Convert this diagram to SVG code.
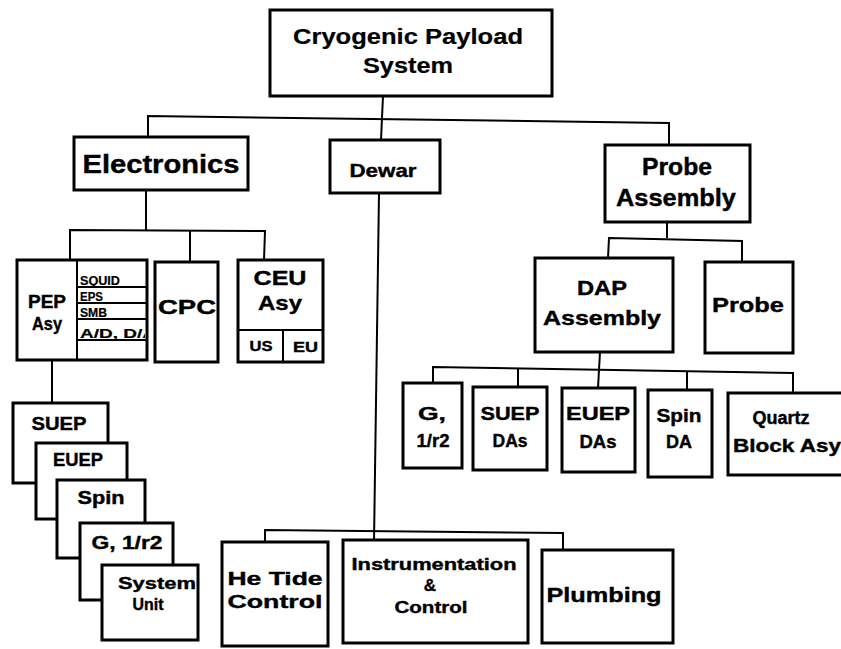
<svg xmlns="http://www.w3.org/2000/svg" width="841" height="649" viewBox="0 0 841 649">
<style>
.box{fill:#fff;stroke:#000;stroke-width:3}
.div{fill:none;stroke:#000;stroke-width:2}
.con{fill:none;stroke:#000;stroke-width:2}
text{font-family:"Liberation Sans",Arial,sans-serif;font-weight:bold;fill:#000;stroke:#000;stroke-width:0.4;text-anchor:middle}
.s{font-size:12px;text-anchor:start;stroke-width:0.2}
.m{font-size:18px}
.l{font-size:21px}
</style>
<defs>
<clipPath id="adclip"><rect x="78" y="320" width="67" height="19"/></clipPath>
<clipPath id="euclip"><rect x="284" y="331" width="38" height="29"/></clipPath>
</defs>
<rect width="841" height="649" fill="#fff"/>
<g id="connectors">
<polyline class="con" points="383,96 381,140"/>
<polyline class="con" points="148,137 148,116 669,123 669,145"/>
<polyline class="con" points="146,190 146,230"/>
<polyline class="con" points="70,260 70,230 265,231 264,260"/>
<polyline class="con" points="190,230.5 190,262"/>
<polyline class="con" points="52,360 52,403"/>
<polyline class="con" points="379,193 374,542"/>
<polyline class="con" points="265,542 265,530 563,533 563,550"/>
<polyline class="con" points="667,222 667,238"/>
<polyline class="con" points="608,258 609,238 742,241 742,262"/>
<polyline class="con" points="600,352 598,388"/>
<polyline class="con" points="433,383 433,367 793,373 793,393"/>
<polyline class="con" points="518,368.5 518,387"/>
<polyline class="con" points="687,371.5 687,390"/>
</g>
<g id="cryogenic-payload-system">
<rect class="box" x="270" y="10" width="282" height="86"/>
<text x="408" y="44" style="font-size:22px;stroke-width:0.2" textLength="230" lengthAdjust="spacingAndGlyphs">Cryogenic Payload</text>
<text x="408" y="73" style="font-size:22px;stroke-width:0.2" textLength="90" lengthAdjust="spacingAndGlyphs">System</text>
</g>
<g id="electronics">
<rect class="box" x="74" y="137" width="174" height="53"/>
<text x="161" y="173" style="font-size:25px" textLength="157" lengthAdjust="spacingAndGlyphs">Electronics</text>
</g>
<g id="dewar">
<rect class="box" x="330" y="140" width="110" height="53"/>
<text x="383" y="177" style="font-size:19px" textLength="67" lengthAdjust="spacingAndGlyphs">Dewar</text>
</g>
<g id="probe-assembly">
<rect class="box" x="605" y="145" width="145" height="77"/>
<text x="677" y="175" style="font-size:23px" textLength="70" lengthAdjust="spacingAndGlyphs">Probe</text>
<text x="676" y="206" style="font-size:23px" textLength="120" lengthAdjust="spacingAndGlyphs">Assembly</text>
</g>
<g id="pep-asy">
<rect class="box" x="17" y="260" width="130" height="100"/>
<line class="div" x1="77" y1="260" x2="77" y2="360"/>
<line class="div" x1="77" y1="287" x2="147" y2="287"/>
<line class="div" x1="77" y1="303" x2="147" y2="303"/>
<line class="div" x1="77" y1="319" x2="147" y2="319"/>
<line class="div" x1="77" y1="340" x2="147" y2="340"/>
<text x="47" y="308" class="m" textLength="38" lengthAdjust="spacingAndGlyphs">PEP</text>
<text x="47" y="330" class="m" textLength="30" lengthAdjust="spacingAndGlyphs">Asy</text>
<text x="80" y="285" class="s" textLength="40" lengthAdjust="spacingAndGlyphs">SQUID</text>
<text x="80" y="301" class="s" textLength="23" lengthAdjust="spacingAndGlyphs">EPS</text>
<text x="80" y="317" class="s" textLength="27" lengthAdjust="spacingAndGlyphs">SMB</text>
<text x="80" y="338" class="s" clip-path="url(#adclip)" textLength="76" lengthAdjust="spacingAndGlyphs">A/D, D/A</text>
</g>
<g id="cpc">
<rect class="box" x="155" y="262" width="63" height="100"/>
<text x="187" y="314" style="font-size:20px" textLength="58" lengthAdjust="spacingAndGlyphs">CPC</text>
</g>
<g id="ceu-asy">
<rect class="box" x="238" y="260" width="85" height="102"/>
<line class="div" x1="238" y1="330" x2="323" y2="330"/>
<line class="div" x1="283" y1="330" x2="283" y2="362"/>
<text x="280" y="285" class="l" textLength="53" lengthAdjust="spacingAndGlyphs">CEU</text>
<text x="280" y="310" class="l" textLength="44" lengthAdjust="spacingAndGlyphs">Asy</text>
<text x="261" y="351" style="font-size:15px" textLength="23" lengthAdjust="spacingAndGlyphs">US</text>
<text x="293" y="352" style="font-size:15px;text-anchor:start" clip-path="url(#euclip)" textLength="25" lengthAdjust="spacingAndGlyphs">EU</text>
</g>
<g id="suep-unit">
<rect class="box" x="13" y="403" width="95" height="80"/>
<text x="59" y="430" class="m" textLength="55" lengthAdjust="spacingAndGlyphs">SUEP</text>
</g>
<g id="euep-unit">
<rect class="box" x="36" y="443" width="91" height="76"/>
<text x="78" y="466" class="m" textLength="50" lengthAdjust="spacingAndGlyphs">EUEP</text>
</g>
<g id="spin-unit">
<rect class="box" x="57" y="480" width="88" height="78"/>
<text x="101" y="504" class="m" textLength="47" lengthAdjust="spacingAndGlyphs">Spin</text>
</g>
<g id="g-unit">
<rect class="box" x="80" y="523" width="93" height="77"/>
<text x="127" y="549" class="m" textLength="71" lengthAdjust="spacingAndGlyphs">G, 1/r2</text>
</g>
<g id="system-unit">
<rect class="box" x="102" y="565" width="96" height="75"/>
<text x="157" y="589" style="font-size:17px" textLength="78" lengthAdjust="spacingAndGlyphs">System</text>
<text x="148" y="610" style="font-size:17px" textLength="31" lengthAdjust="spacingAndGlyphs">Unit</text>
</g>
<g id="he-tide-control">
<rect class="box" x="222" y="542" width="106" height="104"/>
<text x="275" y="585" style="font-size:19px" textLength="95" lengthAdjust="spacingAndGlyphs">He Tide</text>
<text x="275" y="608" style="font-size:19px" textLength="95" lengthAdjust="spacingAndGlyphs">Control</text>
</g>
<g id="instrumentation-control">
<rect class="box" x="343" y="540" width="185" height="103"/>
<text x="434" y="570" style="font-size:17px" textLength="165" lengthAdjust="spacingAndGlyphs">Instrumentation</text>
<text x="430" y="591" style="font-size:17px">&amp;</text>
<text x="431" y="613" style="font-size:17px" textLength="73" lengthAdjust="spacingAndGlyphs">Control</text>
</g>
<g id="plumbing">
<rect class="box" x="542" y="550" width="131" height="93"/>
<text x="604" y="602" style="font-size:20px" textLength="115" lengthAdjust="spacingAndGlyphs">Plumbing</text>
</g>
<g id="dap-assembly">
<rect class="box" x="535" y="258" width="138" height="94"/>
<text x="602" y="295" class="l" textLength="50" lengthAdjust="spacingAndGlyphs">DAP</text>
<text x="602" y="325" class="l" textLength="118" lengthAdjust="spacingAndGlyphs">Assembly</text>
</g>
<g id="probe">
<rect class="box" x="705" y="262" width="88" height="91"/>
<text x="748" y="312" class="l" textLength="72" lengthAdjust="spacingAndGlyphs">Probe</text>
</g>
<g id="g-1r2">
<rect class="box" x="403" y="383" width="59" height="85"/>
<text x="432" y="420" class="m" textLength="28" lengthAdjust="spacingAndGlyphs">G,</text>
<text x="433" y="447" class="m" textLength="33" lengthAdjust="spacingAndGlyphs">1/r2</text>
</g>
<g id="suep-das">
<rect class="box" x="473" y="387" width="74" height="83"/>
<text x="510" y="420" class="m" textLength="59" lengthAdjust="spacingAndGlyphs">SUEP</text>
<text x="510" y="447" class="m" textLength="35" lengthAdjust="spacingAndGlyphs">DAs</text>
</g>
<g id="euep-das">
<rect class="box" x="562" y="388" width="73" height="84"/>
<text x="598" y="420" class="m" textLength="64" lengthAdjust="spacingAndGlyphs">EUEP</text>
<text x="598" y="448" class="m" textLength="37" lengthAdjust="spacingAndGlyphs">DAs</text>
</g>
<g id="spin-da">
<rect class="box" x="648" y="390" width="64" height="87"/>
<text x="679" y="422" class="m" textLength="45" lengthAdjust="spacingAndGlyphs">Spin</text>
<text x="679" y="448" class="m" textLength="26" lengthAdjust="spacingAndGlyphs">DA</text>
</g>
<g id="quartz-block-asy">
<rect class="box" x="728" y="393" width="120" height="82"/>
<text x="781" y="424" class="m" textLength="57" lengthAdjust="spacingAndGlyphs">Quartz</text>
<text x="733" y="452" class="m" style="text-anchor:start" textLength="108" lengthAdjust="spacingAndGlyphs">Block Asy</text>
</g>
</svg>
